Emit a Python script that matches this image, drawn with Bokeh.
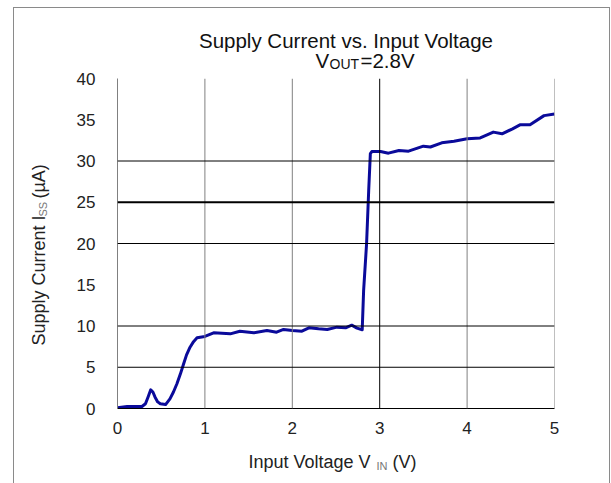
import math
from bokeh.plotting import figure
from bokeh.models import Span, Label, FixedTicker
from bokeh.embed import file_html
from bokeh.resources import INLINE

# ---- data ----
vin = [0.0, 0.11, 0.28, 0.32, 0.35, 0.38, 0.405, 0.43, 0.46, 0.49, 0.55, 0.60, 0.64, 0.68,
       0.72, 0.756, 0.79, 0.83, 0.87, 0.91, 1.0,
       1.10, 1.29, 1.40, 1.56, 1.71, 1.82, 1.90, 2.0, 2.11, 2.19, 2.30, 2.40, 2.51, 2.61,
       2.68, 2.74, 2.80, 2.816, 2.85, 2.874, 2.893, 2.91, 3.01, 3.10, 3.22, 3.33, 3.50,
       3.58, 3.71, 3.85, 4.0, 4.15, 4.30, 4.40, 4.52, 4.61, 4.72, 4.88, 5.0]
iss = [0.1, 0.24, 0.24, 0.57, 1.4, 2.26, 2.0, 1.37, 0.8, 0.57, 0.48, 1.17, 2.0, 3.0,
       4.2, 5.4, 6.5, 7.43, 8.1, 8.57, 8.73,
       9.17, 9.05, 9.37, 9.17, 9.45, 9.25, 9.58, 9.45, 9.37, 9.78, 9.66, 9.58, 9.86, 9.78,
       10.1, 9.74, 9.54, 14.3, 20.0, 26.4, 30.9, 31.15, 31.15, 30.95, 31.27, 31.19, 31.8,
       31.7, 32.2, 32.4, 32.7, 32.8, 33.5, 33.3, 33.9, 34.4, 34.4, 35.5, 35.7]

x_ticks = [0, 1, 2, 3, 4, 5]
y_ticks = [0, 5, 10, 15, 20, 25, 30, 35, 40]
v_grid_gray = [1, 2, 4, 5]
v_grid_black = [3]
h_grid_thin = [5, 10, 20, 30]
h_grid_thick = [25]

title_text = "Supply Current vs. Input Voltage"

p = figure(width=611, height=483, x_range=(0, 5), y_range=(0, 40),
           output_backend="svg", toolbar_location=None,
           min_border_left=117, min_border_right=57, min_border_top=78, min_border_bottom=75)
p.outline_line_color = None
p.xgrid.visible = False
p.ygrid.visible = False
p.background_fill_color = "white"
p.border_fill_color = None
# outer frame of the page (left, top and right edges)
p.styles = {
    "background": ("linear-gradient(#8a8a8a,#8a8a8a) 13px 7px / 1px 476px no-repeat, "
                   "linear-gradient(#8a8a8a,#8a8a8a) 13px 7px / 597px 1px no-repeat, "
                   "linear-gradient(#8a8a8a,#8a8a8a) 609px 7px / 1px 476px no-repeat, white"),
}

FONT = "Liberation Sans"

for ax in (p.xaxis[0], p.yaxis[0]):
    ax.major_tick_line_color = None
    ax.minor_tick_line_color = None
    ax.major_label_text_font = FONT
    ax.major_label_text_font_size = "17px"
    ax.major_label_text_color = "#222222"
p.xaxis[0].ticker = FixedTicker(ticks=x_ticks)
p.yaxis[0].ticker = FixedTicker(ticks=y_ticks)
p.xaxis[0].axis_line_color = "black"
p.yaxis[0].axis_line_color = "#808080"
p.xaxis[0].major_label_standoff = 7
p.yaxis[0].major_label_standoff = 16

for v in v_grid_gray:
    p.add_layout(Span(location=v, dimension="height", line_color="#808080", line_width=1))
for v in v_grid_black:
    p.add_layout(Span(location=v, dimension="height", line_color="black", line_width=1))
for h in h_grid_thin:
    p.add_layout(Span(location=h, dimension="width", line_color="black", line_width=1))
for h in h_grid_thick:
    p.add_layout(Span(location=h, dimension="width", line_color="black", line_width=2))

p.line(vin, iss, line_color="#0A0A9A", line_width=3, line_join="round")


def lab(side, text, px, py, size, color="#111111", align="left", angle=0.0):
    p.add_layout(Label(x=px, y=py, x_units="canvas", y_units="canvas", text=text,
                       text_font=FONT, text_font_size=size, text_color=color,
                       text_align=align, text_baseline="alphabetic", angle=angle), side)

# title
lab("above", title_text, 345.5, 40.4, "20.5px", align="center")
lab("above", "V", 315, 60.4, "20.5px")
lab("right", "OUT", 329, 63.9, "14px")
lab("above", "=2.8V", 360, 60.4, "20.5px")

# x axis label
lab("below", "Input Voltage V", 248, 461, "18px", color="#222222")
lab("right", "IN", 376, 465.4, "11px", color="#777777")
lab("below", "(V)", 392, 461, "18px", color="#222222")

# y axis label (rotated)
lab("left", "Supply Current I", 38, 345, "18px", color="#222222", angle=math.pi / 2)
lab("left", "SS", 42.4, 216, "11px", color="#777777", angle=math.pi / 2)
lab("left", "(\u00b5A)", 38, 198, "18px", color="#222222", angle=math.pi / 2)

open("out.html", "w").write(file_html(p, INLINE))
